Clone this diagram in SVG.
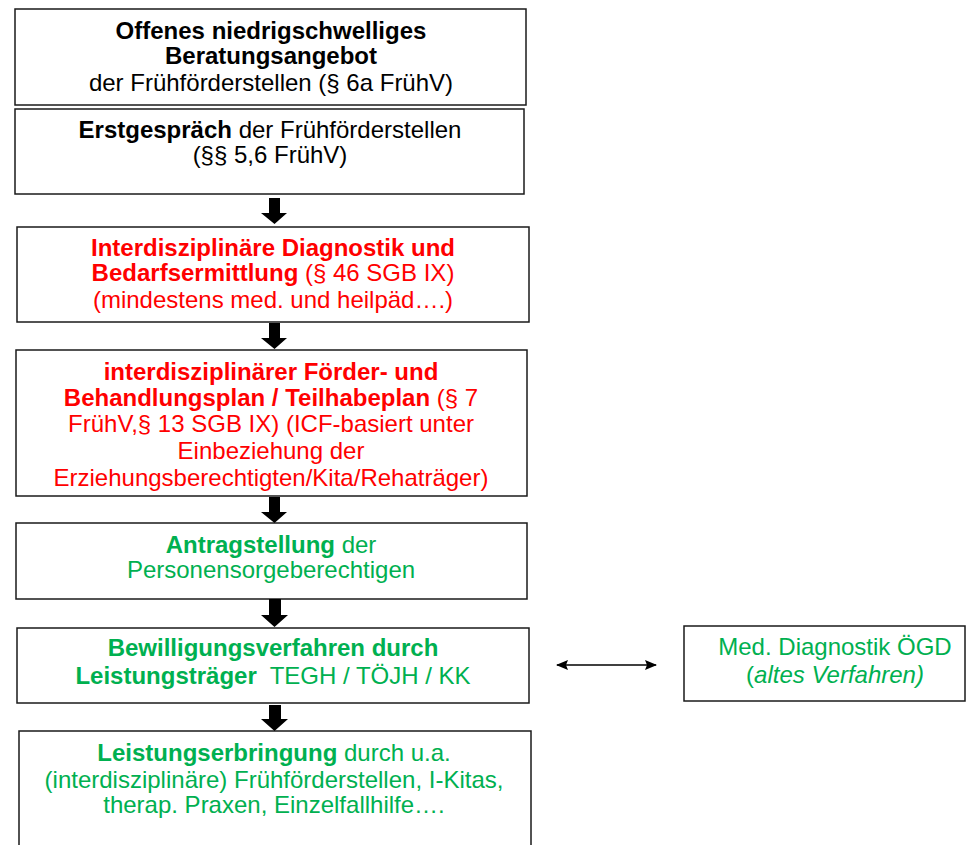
<svg xmlns="http://www.w3.org/2000/svg" width="968" height="845" viewBox="0 0 968 845">
<defs>
<style>
.box{fill:#fff;stroke:#1a1a1a;stroke-width:1.5}
text{font-family:"Liberation Sans",Arial,sans-serif;font-size:24px;text-anchor:middle}
.k{fill:#000}
.r{fill:#ff0000}
.g{fill:#00b050}
.b{font-weight:bold}
.ar{fill:#000}
</style>
<marker id="ah" viewBox="0 0 12 10" refX="11" refY="5" markerWidth="12" markerHeight="10" markerUnits="userSpaceOnUse" orient="auto-start-reverse"><path d="M0,0 L12,5 L0,10 L2,5 z" fill="#000"/></marker>
</defs>
<rect width="968" height="845" fill="#fff"/>
<g id="n1">
<rect class="box" x="15" y="9" width="511" height="96"/>
<text class="k b" x="271" y="39">Offenes niedrigschwelliges</text>
<text class="k b" x="271" y="64">Beratungsangebot</text>
<text class="k" x="271" y="91">der Frühförderstellen (§ 6a FrühV)</text>
</g>
<g id="n2">
<rect class="box" x="15" y="109" width="509" height="85"/>
<text class="k" x="270" y="138"><tspan class="b">Erstgespräch</tspan> der Frühförderstellen</text>
<text class="k" x="270" y="163">(§§ 5,6 FrühV)</text>
</g>
<g id="n3">
<rect class="box" x="17" y="227" width="512" height="95"/>
<text class="r b" x="273" y="256">Interdisziplinäre Diagnostik und</text>
<text class="r" x="273" y="281"><tspan class="b">Bedarfsermittlung</tspan> (§ 46 SGB IX)</text>
<text class="r" x="273" y="308">(mindestens med. und heilpäd….)</text>
</g>
<g id="n4">
<rect class="box" x="16" y="350" width="511" height="146"/>
<text class="r b" x="271" y="380">interdisziplinärer Förder- und</text>
<text class="r" x="271" y="406"><tspan class="b">Behandlungsplan / Teilhabeplan</tspan> (§ 7</text>
<text class="r" x="271" y="432">FrühV,§ 13 SGB IX) (ICF-basiert unter</text>
<text class="r" x="271" y="459">Einbeziehung der</text>
<text class="r" x="271" y="486">Erziehungsberechtigten/Kita/Rehaträger)</text>
</g>
<g id="n5">
<rect class="box" x="16" y="523" width="511" height="76"/>
<text class="g" x="271" y="553"><tspan class="b">Antragstellung</tspan> der</text>
<text class="g" x="271" y="578">Personensorgeberechtigen</text>
</g>
<g id="n6">
<rect class="box" x="17" y="628" width="512" height="75"/>
<text class="g b" x="273" y="656">Bewilligungsverfahren durch</text>
<text class="g" x="273" y="684"><tspan class="b">Leistungsträger</tspan>&#160; TEGH / TÖJH / KK</text>
</g>
<g id="n7">
<rect class="box" x="19" y="731" width="512" height="130"/>
<text class="g" x="274" y="761"><tspan class="b">Leistungserbringung</tspan> durch u.a.</text>
<text class="g" x="274" y="788">(interdisziplinäre) Frühförderstellen, I-Kitas,</text>
<text class="g" x="274" y="813">therap. Praxen, Einzelfallhilfe….</text>
</g>
<g id="n8">
<rect class="box" x="684" y="626" width="281" height="75"/>
<text class="g" x="835" y="655">Med. Diagnostik ÖGD</text>
<text class="g" x="835" y="683">(<tspan font-style="italic">altes Verfahren)</tspan></text>
</g>
<g id="connectors">
<path class="ar" d="M269,198 H280 V213 H287 L274.5,224 L261,213 H269 Z"/>
<path class="ar" d="M269,323 H280 V338 H287 L274.5,349 L261,338 H269 Z"/>
<path class="ar" d="M269,497 H280 V512 H287 L274.5,523 L261,512 H269 Z"/>
<path class="ar" d="M269,599 H281 V615 H288 L274.5,627 L261,615 H269 Z"/>
<path class="ar" d="M269,705 H281 V719 H288 L274.5,731 L261,719 H269 Z"/>
<line x1="557" y1="665" x2="656" y2="665" stroke="#000" stroke-width="1.5" marker-start="url(#ah)" marker-end="url(#ah)"/>
</g>
</svg>
